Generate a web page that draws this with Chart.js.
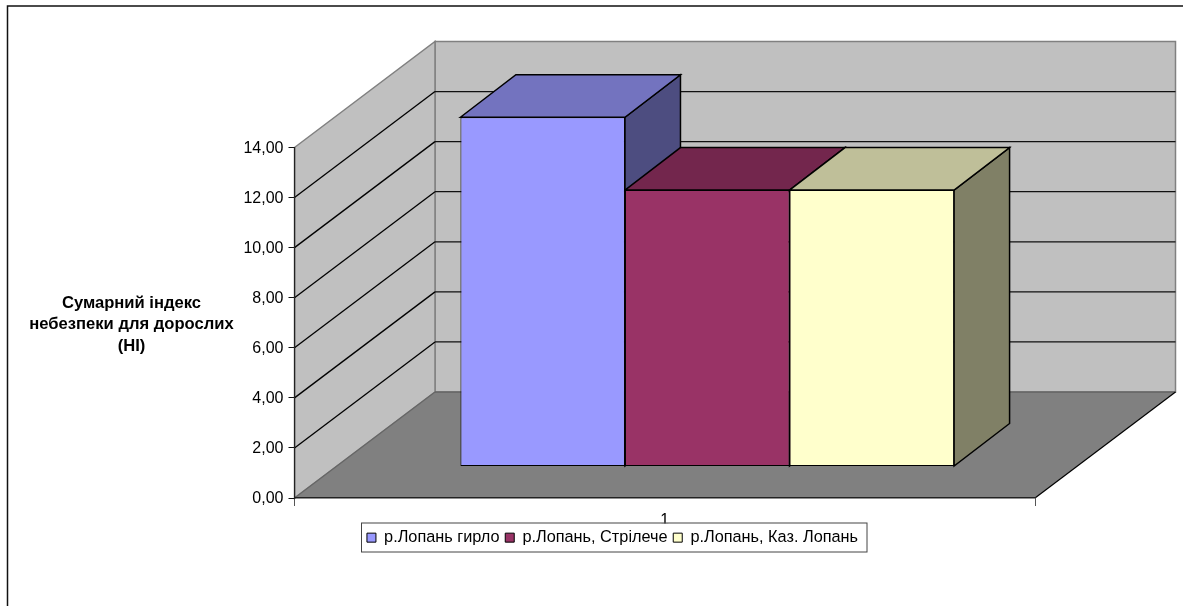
<!DOCTYPE html>
<html>
<head>
<meta charset="utf-8">
<style>
  html, body { margin: 0; padding: 0; background: #fff; }
  canvas { display: block; }
</style>
<script src="https://cdn.jsdelivr.net/npm/chart.js@4"></script>
</head>
<body>
<canvas id="myChart" width="1183" height="606"></canvas>
<script>
  const categories = ["1"];
  const seriesNames = ["р.Лопань гирло", "р.Лопань, Стрілече", "р.Лопань, Каз. Лопань"];
  const lopanMouth = [13.95];
  const lopanStrileche = [11.04];
  const lopanKaz = [11.04];
  const yTitleLines = ["Сумарний індекс", "небезпеки для дорослих", "(HI)"];

  const FONT = "'Liberation Sans', Arial, sans-serif";
  // oblique depth of the box the chart stands in, and of the bars inside it
  const BOX_DX = 140.5, BOX_DY = -106;
  const BAR_DX = 42.5, BAR_DY = -31.5;
  const BAR_DEPTH_X = 55.5, BAR_DEPTH_Y = -42.5;

  function shade(hex, k) {
    const n = parseInt(hex.slice(1), 16);
    const c = [n >> 16, (n >> 8) & 255, n & 255].map(v => Math.round(v * k));
    return `rgb(${c[0]},${c[1]},${c[2]})`;
  }

  function poly(ctx, pts, fill, stroke, width) {
    ctx.beginPath();
    pts.forEach((p, i) => i ? ctx.lineTo(p[0], p[1]) : ctx.moveTo(p[0], p[1]));
    ctx.closePath();
    if (fill) { ctx.fillStyle = fill; ctx.fill(); }
    if (stroke) { ctx.strokeStyle = stroke; ctx.lineWidth = width || 1; ctx.stroke(); }
  }

  function line(ctx, x1, y1, x2, y2, color, width) {
    ctx.beginPath();
    ctx.moveTo(x1, y1);
    ctx.lineTo(x2, y2);
    ctx.strokeStyle = color;
    ctx.lineWidth = width || 1;
    ctx.stroke();
  }

  // frame, walls, floor and gridlines
  const boxPlugin = {
    id: 'box3d',
    beforeDraw(chart) {
      const { ctx, chartArea: a, scales } = chart;
      const y = scales.y;
      ctx.save();
      ctx.fillStyle = '#fff';
      ctx.fillRect(0, 0, chart.width, chart.height);

      ctx.beginPath();
      ctx.moveTo(7.5, chart.height);
      ctx.lineTo(7.5, 6);
      ctx.lineTo(chart.width, 6);
      ctx.strokeStyle = '#111';
      ctx.lineWidth = 1.5;
      ctx.stroke();

      const x0 = a.left, x1 = a.right, top = y.getPixelForValue(14), bot = y.getPixelForValue(0);
      const bx0 = x0 + BOX_DX, bx1 = x1 + BOX_DX;
      poly(ctx, [[bx0, top + BOX_DY], [bx1, top + BOX_DY], [bx1, bot + BOX_DY], [bx0, bot + BOX_DY]], '#C0C0C0', '#808080', 1.5);
      poly(ctx, [[x0, top], [bx0, top + BOX_DY], [bx0, bot + BOX_DY], [x0, bot]], '#C0C0C0', '#808080', 1.5);
      poly(ctx, [[x0, bot], [x1, bot], [bx1, bot + BOX_DY], [bx0, bot + BOX_DY]], '#808080');

      y.ticks.forEach(t => {
        if (t.value === 0 || t.value === 14) return;
        const py = y.getPixelForValue(t.value);
        line(ctx, x0, py, bx0, py + BOX_DY, '#000', 1.3);
        line(ctx, bx0, py + BOX_DY, bx1, py + BOX_DY, '#111', 1.2);
      });
      line(ctx, x0, bot, bx0, bot + BOX_DY, '#666', 1.2);
      line(ctx, bx0, bot + BOX_DY, bx1, bot + BOX_DY, '#555', 1.2);
      line(ctx, x1, bot, bx1, bot + BOX_DY, '#000', 1.2);
      ctx.restore();
    },
    afterLayout(chart) {
      // legend sits off-centre, under the plot
      const lg = chart.legend;
      const h = lg.bottom - lg.top, w = lg.right - lg.left;
      lg.left += 95;
      lg.right = lg.left + w;
      lg.top = 523.8;
      lg.bottom = lg.top + h;
    },
    afterDraw(chart) {
      const ctx = chart.ctx;
      ctx.save();
      ctx.strokeStyle = '#444';
      ctx.lineWidth = 1;
      ctx.strokeRect(361.5, 523, 505.5, 29);

      ctx.fillStyle = '#000';
      ctx.font = 'bold 16.6px ' + FONT;
      ctx.textAlign = 'center';
      ctx.textBaseline = 'middle';
      yTitleLines.forEach((s, i) => ctx.fillText(s, 131.5, 303 + i * 21.5));
      ctx.restore();
    }
  };

  // bars are pushed into the box; top and side faces hang off each native bar
  const barsPlugin = {
    id: 'bars3d',
    beforeDatasetsDraw(chart) {
      const ctx = chart.ctx;
      ctx.save();
      ctx.translate(BAR_DX, BAR_DY);
      chart.data.datasets.forEach((ds, i) => {
        const bar = chart.getDatasetMeta(i).data[0];
        const l = bar.x - bar.width / 2, r = bar.x + bar.width / 2, t = bar.y, b = bar.base;
        const dx = BAR_DEPTH_X, dy = BAR_DEPTH_Y;
        poly(ctx, [[r, t], [r + dx, t + dy], [r + dx, b + dy], [r, b]], shade(ds.backgroundColor, 0.5), '#000', 1.5);
        poly(ctx, [[l, t], [l + dx, t + dy], [r + dx, t + dy], [r, t]], shade(ds.backgroundColor, 0.75), '#000', 1.5);
      });
    },
    afterDatasetsDraw(chart) {
      chart.ctx.restore();
    }
  };

  const ctx = document.getElementById('myChart').getContext('2d');
  const myChart = new Chart(ctx, {
    type: 'bar',
    data: {
      labels: categories,
      datasets: [{
        label: seriesNames[0],
        backgroundColor: "#9999FF",
        borderColor: "#000",
        borderWidth: 1,
        borderSkipped: false,
        data: lopanMouth
      }, {
        label: seriesNames[1],
        backgroundColor: "#993366",
        borderColor: "#000",
        borderWidth: 1,
        borderSkipped: false,
        data: lopanStrileche
      }, {
        label: seriesNames[2],
        backgroundColor: "#FFFFCC",
        borderColor: "#000",
        borderWidth: 1,
        borderSkipped: false,
        data: lopanKaz
      }]
    },
    plugins: [boxPlugin, barsPlugin],
    options: {
      responsive: false,
      animation: false,
      layout: { padding: { left: 0, right: 148, top: 147.5, bottom: 50.5 } },
      datasets: { bar: { categoryPercentage: 2 / 3, barPercentage: 1 } },
      scales: {
        x: {
          // axis height also trims the label where the legend box begins
          afterFit(s) { s.height = 25.5; },
          grid: { drawOnChartArea: false, tickLength: 8, color: '#555' },
          border: { color: '#222', width: 1.5 },
          ticks: { color: '#000', font: { family: FONT, size: 16 }, padding: 5, maxRotation: 0 }
        },
        y: {
          min: 0,
          max: 14,
          afterFit(s) { s.width = 294.5; },
          grid: { drawOnChartArea: false, tickLength: 6, color: '#111' },
          border: { color: '#222', width: 1.2 },
          ticks: {
            stepSize: 2,
            color: '#000',
            padding: 5,
            labelOffset: 1,
            font: { family: FONT, size: 16 },
            callback: v => v.toFixed(2).replace('.', ',')
          }
        }
      },
      plugins: {
        legend: {
          position: 'bottom',
          labels: {
            boxWidth: 9,
            boxHeight: 9,
            padding: 5.7,
            color: '#000',
            font: { family: FONT, size: 16.3 }
          }
        },
        tooltip: { enabled: false }
      }
    }
  });
</script>
</body>
</html>
